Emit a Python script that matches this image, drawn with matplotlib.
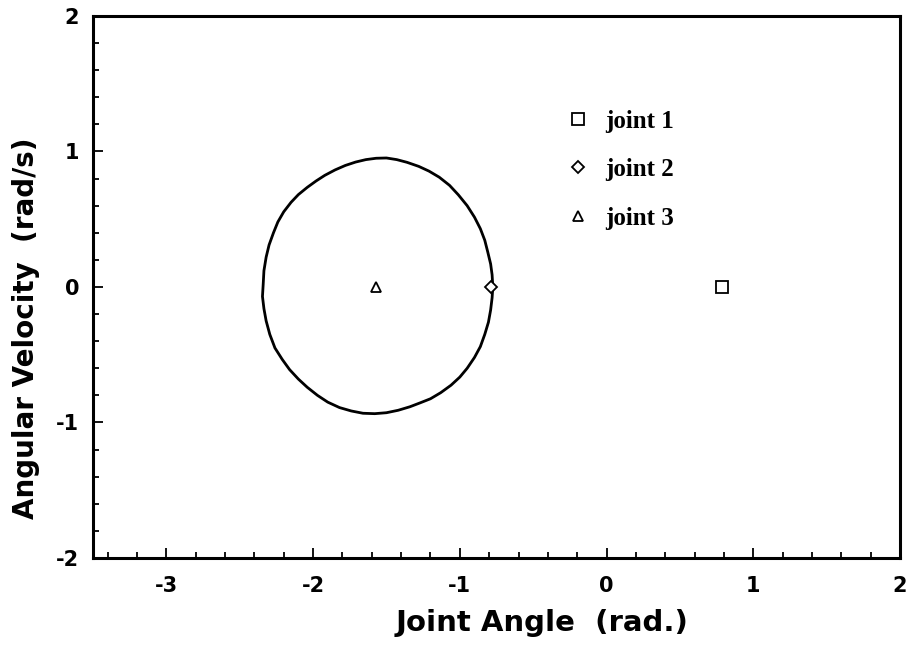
import matplotlib
matplotlib.use('Agg')
import matplotlib.pyplot as plt

# phase trajectory (joint angle, angular velocity)
theta = [-0.775, -0.78, -0.79, -0.81, -0.83, -0.86, -0.90, -0.95, -1.01, -1.07,
         -1.14, -1.21, -1.28, -1.36, -1.43, -1.50, -1.57, -1.64, -1.71, -1.78,
         -1.85, -1.92, -1.98, -2.04, -2.10, -2.15, -2.20, -2.24, -2.27, -2.30,
         -2.32, -2.335, -2.34, -2.345, -2.335, -2.32, -2.295, -2.26, -2.21, -2.16,
         -2.10, -2.04, -1.97, -1.90, -1.82, -1.74, -1.66, -1.58, -1.50, -1.42,
         -1.34, -1.27, -1.20, -1.13, -1.06, -1.00, -0.95, -0.90, -0.86, -0.83,
         -0.805, -0.79, -0.78, -0.775]
omega = [0.00, 0.09, 0.17, 0.26, 0.345, 0.43, 0.515, 0.60, 0.68, 0.75,
         0.81, 0.855, 0.89, 0.92, 0.94, 0.952, 0.950, 0.940, 0.922, 0.897,
         0.864, 0.824, 0.782, 0.735, 0.682, 0.625, 0.555, 0.48, 0.40, 0.31,
         0.22, 0.12, 0.02, -0.07, -0.16, -0.25, -0.35, -0.45, -0.535, -0.61,
         -0.68, -0.74, -0.80, -0.85, -0.89, -0.915, -0.932, -0.935, -0.928, -0.910,
         -0.884, -0.855, -0.825, -0.78, -0.725, -0.665, -0.60, -0.52, -0.44, -0.35,
         -0.26, -0.17, -0.08, 0.00]

# equilibrium points of the joints
joint_names = ['joint 1', 'joint 2', 'joint 3']
joint_angle = [0.785, -0.785, -1.571]
joint_vel = [0.0, 0.0, 0.0]
joint_marker = ['s', 'D', '^']
joint_msize = [8, 6.5, 7.5]

xticks = [-3, -2, -1, 0, 1, 2]
yticks = [-2, -1, 0, 1, 2]

fig = plt.figure(figsize=(9.18, 6.47), dpi=100)
ax = fig.add_axes([0.1013, 0.1376, 0.8791, 0.8377])

ax.plot(theta, omega, color='black', linewidth=2.0, solid_joinstyle='round')

handles = []
for name, a, v, m, ms in zip(joint_names, joint_angle, joint_vel, joint_marker, joint_msize):
    h, = ax.plot([a], [v], linestyle='none', marker=m, markersize=ms,
                 markerfacecolor='white', markeredgecolor='black',
                 markeredgewidth=1.3, label=name)
    handles.append(h)

ax.set_xlim(-3.5, 2)
ax.set_ylim(-2, 2)
ax.set_xticks(xticks)
ax.set_yticks(yticks)
ax.set_xticks([x / 10 for x in range(-34, 20, 2)], minor=True)
ax.set_yticks([y / 10 for y in range(-18, 20, 2)], minor=True)

tick_font = dict(family='DejaVu Sans', weight='bold', size=15)
ax.set_xticklabels([str(t) for t in xticks], **tick_font)
ax.set_yticklabels([str(t) for t in yticks], **tick_font)
ax.tick_params(which='both', direction='in', top=False, right=False, width=1.3)
ax.tick_params(which='major', length=7)
ax.tick_params(which='minor', length=4)
ax.tick_params(axis='x', which='major', pad=13)
ax.tick_params(axis='y', which='major', pad=10)

for sp in ax.spines.values():
    sp.set_linewidth(2.2)

ax.set_xlabel('Joint Angle  (rad.)', family='DejaVu Sans', weight='bold', size=21)
ax.set_ylabel('Angular Velocity  (rad/s)', family='DejaVu Sans', weight='bold', size=20)
ax.xaxis.set_label_coords(0.556, -0.094)
ax.yaxis.set_label_coords(-0.066, 0.424)

ax.legend(handles=handles, loc='upper left', bbox_to_anchor=(0.585, 0.827),
          frameon=False, numpoints=1, borderpad=0, borderaxespad=0,
          handlelength=1.0, handletextpad=0.6, labelspacing=1.02,
          prop=dict(family='Liberation Serif', weight='bold', size=18))

fig.savefig('out.png', dpi=100)
